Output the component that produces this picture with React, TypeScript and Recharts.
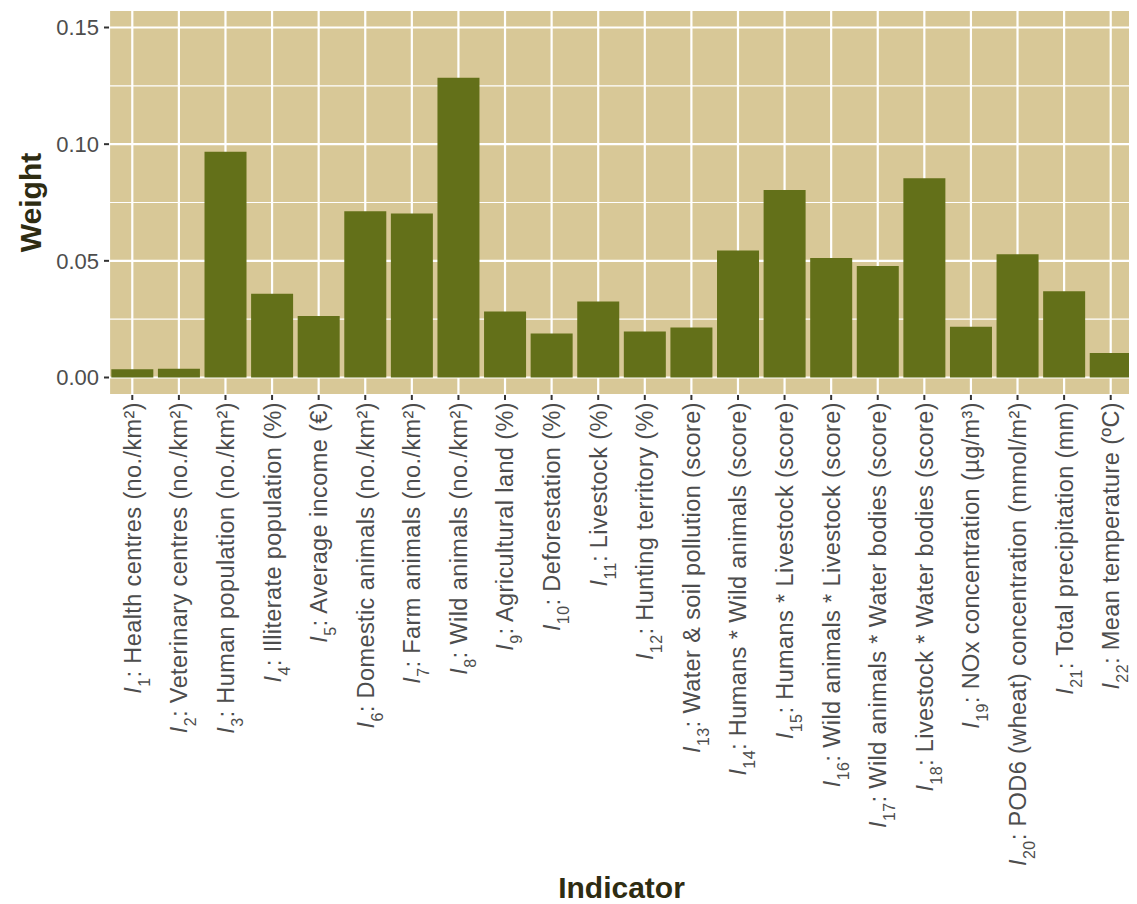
import { BarChart, Bar, XAxis, YAxis, CartesianGrid, Label } from "recharts";

const indicatorIds = [
  "1", "2", "3", "4", "5", "6", "7", "8", "9", "10", "11",
  "12", "13", "14", "15", "16", "17", "18", "19", "20", "21", "22",
];

const indicatorNames = [
  "Health centres (no./km²)",
  "Veterinary centres (no./km²)",
  "Human population (no./km²)",
  "Illiterate population (%)",
  "Average income (€)",
  "Domestic animals (no./km²)",
  "Farm animals (no./km²)",
  "Wild animals (no./km²)",
  "Agricultural land (%)",
  "Deforestation (%)",
  "Livestock (%)",
  "Hunting territory (%)",
  "Water & soil pollution (score)",
  "Humans * Wild animals (score)",
  "Humans * Livestock (score)",
  "Wild animals * Livestock (score)",
  "Wild animals * Water bodies (score)",
  "Livestock * Water bodies (score)",
  "NOx concentration (µg/m³)",
  "POD6 (wheat) concentration (mmol/m²)",
  "Total precipitation (mm)",
  "Mean temperature (ºC)",
];

const weights = [
  0.0035, 0.0038, 0.0968, 0.0359, 0.0264, 0.0713, 0.0703, 0.1285, 0.0283, 0.0189, 0.0326,
  0.0197, 0.0214, 0.0544, 0.0804, 0.0512, 0.0478, 0.0854, 0.0218, 0.0528, 0.0370, 0.0105,
];

const yTicks = [0, 0.05, 0.1, 0.15];
const yMinor = [0.025, 0.075, 0.125];

const data = indicatorIds.map((id, i) => ({ id, name: indicatorNames[i], weight: weights[i] }));

const FONT = "Arial, 'Liberation Sans', Helvetica, sans-serif";
const PANEL = "#D8C897";
const BAR = "#637019";
const TITLE = "#2e2c12";

const IndicatorTick = (props: any) => {
  const { x, y, payload } = props;
  const i = payload.index;
  return (
    <g transform={`translate(${x},${y})`}>
      <text
        transform="rotate(-90)"
        x={0}
        y={0}
        dy="0.36em"
        textAnchor="end"
        fill="#4d4d4d"
        fontSize={23.5}
        letterSpacing={0.4}
        fontFamily={FONT}
      >
        <tspan fontStyle="italic">I</tspan>
        <tspan baselineShift="sub" fontSize={16}>{indicatorIds[i]}</tspan>
        <tspan>{": " + indicatorNames[i]}</tspan>
      </text>
    </g>
  );
};

export default function App() {
  return (
    <div style={{ width: 1129, height: 896 }}>
      <BarChart
        width={1129}
        height={896}
        data={data}
        margin={{ top: 2, right: 3, left: 0, bottom: 0 }}
        barCategoryGap="5%"
      >
        <CartesianGrid
          fill={PANEL}
          fillOpacity={1}
          stroke="#ffffff"
          strokeWidth={1.2}
          vertical={false}
          horizontalValues={yMinor}
        />
        <CartesianGrid stroke="#ffffff" strokeWidth={2.2} />
        <XAxis
          dataKey="id"
          interval={0}
          height={509}
          axisLine={false}
          tickSize={5}
          tickLine={{ stroke: "#333333", strokeWidth: 2 }}
          tick={<IndicatorTick />}
        >
          <Label
            content={({ viewBox }: any) => (
              <text
                x={viewBox.x + viewBox.width / 2}
                y={viewBox.y + viewBox.height - 6}
                textAnchor="middle"
                fontSize={30}
                fontWeight="bold"
                fill={TITLE}
                fontFamily={FONT}
              >
                Indicator
              </text>
            )}
          />
        </XAxis>
        <YAxis
          type="number"
          domain={[-0.0075, 0.1575]}
          allowDataOverflow
          ticks={yTicks}
          width={101}
          axisLine={false}
          tickSize={5}
          tickMargin={5}
          tickLine={{ stroke: "#333333", strokeWidth: 2 }}
          tickFormatter={(v: number) => v.toFixed(2)}
          tick={{ fill: "#4d4d4d", fontSize: 22, fontFamily: FONT }}
        >
          <Label
            content={({ viewBox }: any) => {
              const cx = 22;
              const cy = viewBox.y + viewBox.height / 2;
              return (
                <text
                  x={cx}
                  y={cy}
                  transform={`rotate(-90, ${cx}, ${cy})`}
                  textAnchor="middle"
                  dy="0.36em"
                  fontSize={30}
                  fontWeight="bold"
                  fill={TITLE}
                  fontFamily={FONT}
                >
                  Weight
                </text>
              );
            }}
          />
        </YAxis>
        <Bar dataKey="weight" fill={BAR} isAnimationActive={false} />
      </BarChart>
    </div>
  );
}
